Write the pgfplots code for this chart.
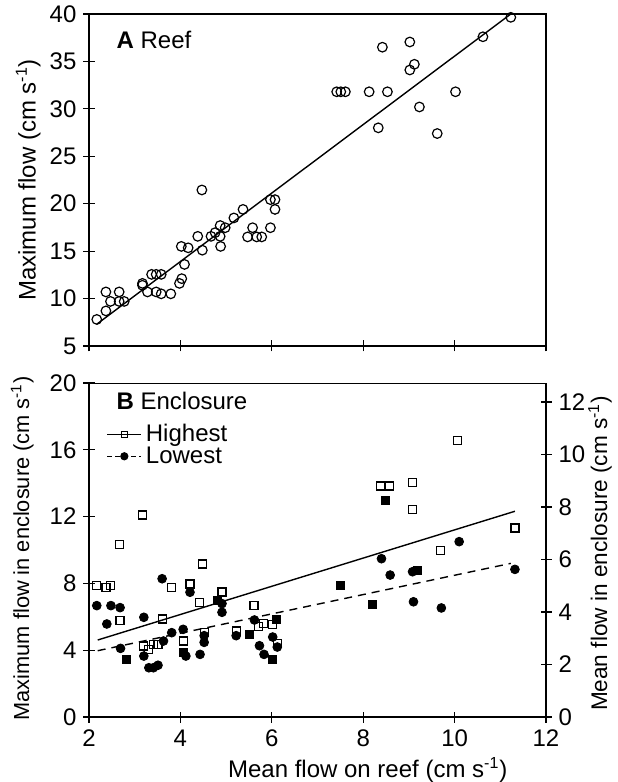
\documentclass[border=0pt]{standalone}
\usepackage{fontspec}
\setmainfont{Liberation Sans}
\usepackage{pgfplots}
\pgfplotsset{compat=1.18}

\pgfplotstableread{
x y
2.17 7.8
2.37 8.7
2.37 10.7
2.47 9.7
2.66 10.7
2.66 9.7
2.77 9.7
3.17 11.6
3.17 11.4
3.28 10.7
3.37 12.55
3.47 12.55
3.58 12.55
3.47 10.7
3.58 10.5
3.79 10.5
3.98 11.6
4.03 12.1
4.09 13.6
4.02 15.5
4.17 15.35
4.47 21.45
4.38 16.56
4.48 15.1
4.67 16.56
4.76 16.95
4.87 17.7
4.87 16.56
4.88 15.5
4.98 17.47
5.17 18.5
5.37 19.4
5.47 16.5
5.58 17.47
5.67 16.5
5.78 16.5
5.97 17.47
5.97 20.43
6.07 20.43
6.07 19.4
7.42 31.8
7.51 31.8
7.61 31.8
8.13 31.8
8.53 31.8
8.42 36.5
9.02 37.05
9.12 34.7
9.02 34.1
8.33 28.0
9.23 30.2
9.62 27.4
10.02 31.8
10.62 37.6
11.23 39.65
}\reefdata

\pgfplotstableread{
x y
2.17 7.86
2.37 7.77
2.47 7.86
2.67 10.32
2.68 5.77
3.17 12.1
3.20 4.25
3.31 4.05
3.41 4.35
3.51 4.35
3.60 5.87
3.81 7.77
4.06 4.55
4.21 7.96
4.41 6.87
4.49 9.16
4.52 5.07
4.91 7.49
5.22 5.15
5.61 6.69
5.71 5.41
5.81 5.61
6.01 5.53
6.12 4.39
8.38 13.83
8.57 13.83
9.08 14.05
9.08 12.44
9.70 9.98
10.07 16.55
11.32 11.32
}\highopen

\pgfplotstableread{
x y
2.17 6.67
2.39 5.57
2.48 6.67
2.68 6.55
2.69 4.11
3.20 5.97
3.20 3.65
3.31 2.95
3.41 2.95
3.51 3.10
3.60 8.28
3.63 4.55
3.81 5.05
4.06 5.25
4.12 3.65
4.21 7.47
4.43 3.75
4.52 4.87
4.52 4.47
4.91 6.79
4.91 6.27
5.22 4.87
5.62 5.81
5.73 4.27
5.83 3.75
6.02 4.79
6.12 4.19
8.40 9.48
8.59 8.50
9.08 8.70
9.10 6.90
9.71 6.53
10.10 10.50
11.32 8.84
}\lowcirc

\pgfplotstableread{
x y
2.81 3.45
4.06 3.85
4.81 6.97
5.52 4.97
6.02 3.47
6.11 5.87
7.50 7.90
8.20 6.73
8.48 12.95
9.19 8.80
}\fillsq

\begin{document}
\begin{tikzpicture}
\useasboundingbox (0,0) rectangle (308.5pt,-391pt);
\pgfplotsset{
  common/.style={
    scale only axis, width=228.5pt,
    xmin=2, xmax=12, xtick={2,4,...,12},
    tick align=center, major tick length=5.5pt,
    /pgf/number format/assume math mode=true,
    axis line style={line width=0.6pt},
    every tick/.style={black, line width=0.6pt},
    font=\fontsize{12}{14}\selectfont,
    ylabel style={anchor=center},
  }
}
% Panel A
\begin{axis}[common, at={(44.5pt,-7pt)}, anchor=north west, height=166pt,
  ymin=5, ymax=40, ytick={5,10,...,40}, xticklabels={}, tick pos=left,
  ylabel={Maximum flow (cm s\textsuperscript{-1})},
  ylabel style={at={(axis description cs:-0.133,0.5)}}]
\addplot[only marks, mark=o, mark size=2.4pt, mark options={line width=0.6pt}] table {\reefdata};
\addplot[black, line width=0.7pt] coordinates {(2.17,7.3) (11.23,40.0)};
\node[anchor=west, font=\fontsize{12}{14}\selectfont] at (axis cs:2.45,37.3) {\textbf{A} Reef};
\end{axis}

% Panel B, left axis
\begin{axis}[common, at={(44.5pt,-191.5pt)}, anchor=north west, height=167pt,
  ymin=0, ymax=20, ytick={0,4,...,20}, axis y line*=left, axis x line*=bottom,
  xlabel={Mean flow on reef (cm s\textsuperscript{-1})},
  xlabel style={at={(axis description cs:0.61,-0.159)}, anchor=center},
  ylabel={Maximum flow in enclosure (cm s\textsuperscript{-1})},
  ylabel style={at={(axis description cs:-0.146,0.505)}, font=\fontsize{10.9}{13}\selectfont},
  legend cell align=left,
  legend style={at={(axis description cs:0.038,0.89)}, anchor=north west, draw=none, fill=none,
    inner sep=0pt, row sep=-3pt, font=\fontsize{12}{14}\selectfont}]
\addlegendimage{black, line width=0.5pt, mark=square, mark size=1.4pt, mark options={solid}}
\addlegendentry{Highest}
\addlegendimage{black, line width=0.5pt, dash pattern=on 2.5pt off 1.5pt, mark=*, mark size=1.8pt, mark options={solid}}
\addlegendentry{Lowest}
\addplot[forget plot, only marks, mark=square, mark size=2pt, mark options={line width=0.6pt}] table {\highopen};
\addplot[forget plot, only marks, mark=*, mark size=2.2pt] table {\lowcirc};
\addplot[forget plot, only marks, mark=square*, mark size=2pt] table {\fillsq};
\addplot[forget plot, black, line width=0.7pt] coordinates {(2.19,4.61) (11.32,12.32)};
\addplot[forget plot, black, line width=0.7pt, dash pattern=on 4pt off 3pt] coordinates {(2.19,3.97) (11.23,9.20)};
\node[anchor=west, font=\fontsize{12}{14}\selectfont] at (axis cs:2.45,18.9) {\textbf{B} Enclosure};
\draw[line width=0.6pt] (rel axis cs:0,1) -- (rel axis cs:1,1);
\end{axis}

% Panel B, right axis
\begin{axis}[common, at={(44.5pt,-191.5pt)}, anchor=north west, height=167pt,
  ymin=0, ymax=12.72, ytick={0,2,...,12}, axis y line*=right, axis x line=none,
  ylabel={Mean flow in enclosure (cm s\textsuperscript{-1})},
  ylabel style={at={(axis description cs:1.118,0.49)}, rotate=0, font=\fontsize{11.3}{13}\selectfont}]
\end{axis}
\end{tikzpicture}
\end{document}
